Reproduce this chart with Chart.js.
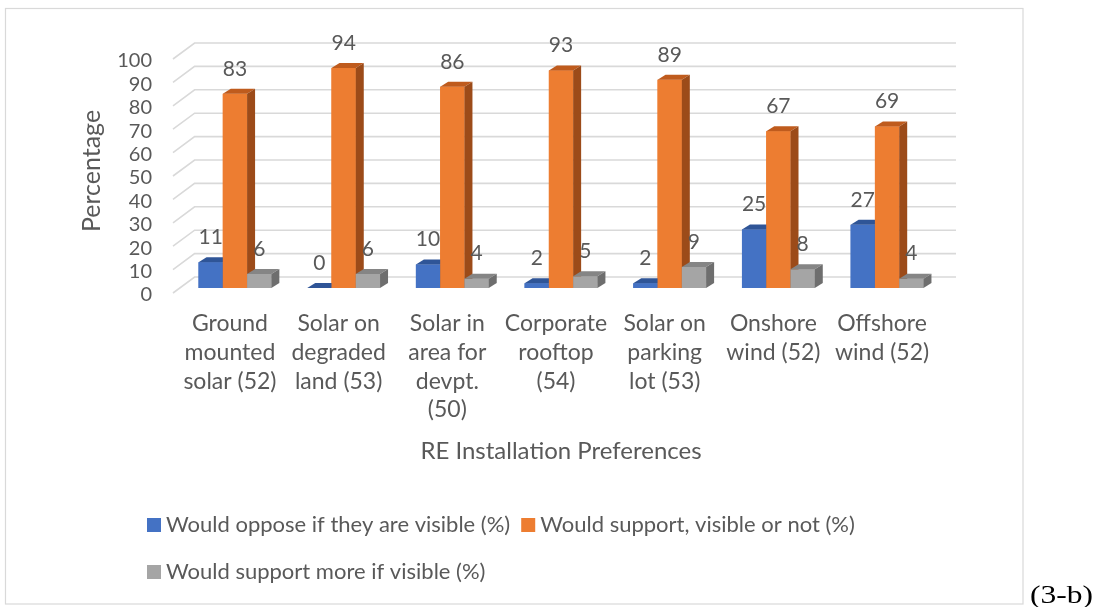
<!DOCTYPE html>
<html>
<head>
<meta charset="utf-8">
<script src="https://cdn.jsdelivr.net/npm/chart.js@4.4.0/dist/chart.umd.min.js"></script>
<style>
  html, body { margin: 0; padding: 0; background: #ffffff; }
  #wrap { position: absolute; left: 0; top: 0; width: 1096px; height: 607px; }
  canvas { display: block; }
</style>
</head>
<body>
<div id="wrap"><canvas id="chart" width="1096" height="607"></canvas></div>
<script>
// ---- data ----
const categories = [
  ["Ground", "mounted", "solar (52)"],
  ["Solar on", "degraded", "land (53)"],
  ["Solar in", "area for", "devpt.", "(50)"],
  ["Corporate", "rooftop", "(54)"],
  ["Solar on", "parking", "lot (53)"],
  ["Onshore", "wind (52)"],
  ["Offshore", "wind (52)"]
];
const seriesNames = [
  "Would oppose if they are visible (%)",
  "Would support, visible or not (%)",
  "Would support more if visible (%)"
];
const opposeIfVisible = [11, 0, 10, 2, 2, 25, 27];
const supportVisibleOrNot = [83, 94, 86, 93, 89, 67, 69];
const supportMoreIfVisible = [6, 6, 4, 5, 9, 8, 4];
const yMin = 0;
const yMax = 100;
const yStep = 10;
const xTitle = "RE Installation Preferences";
const yTitle = "Percentage";
const figureTag = "(3-b)";

// ---- styling ----
const FONT = "Lato, 'Open Sans', sans-serif";
const TEXT = "#595959";
const GRID = "#d9d9d9";
const fronts = ["#4472C4", "#ED7D31", "#A5A5A5"];
const tops = ["#2f5597", "#bf5b1d", "#858585"];
const sides = ["#2b4d8c", "#9c4b19", "#6e6e6e"];
const DEPTH_X = 8, DEPTH_Y = -5;

// back wall, floor edges and 3D faces of the bars
const depthBars = {
  id: "depthBars",
  beforeDatasetsDraw(chart) {
    const { ctx, chartArea } = chart;
    const y = chart.scales.y;
    ctx.save();
    ctx.strokeStyle = GRID;
    ctx.lineWidth = 1.6;
    const wallLeft = chartArea.left + 14;
    const wallRight = chartArea.right + 14.6;
    const floorFront = chartArea.left - 7.6;
    y.ticks.forEach(t => {
      const py = y.getPixelForValue(t.value);
      ctx.beginPath();
      ctx.moveTo(floorFront, py + 5);
      ctx.lineTo(wallLeft, py - 11);
      ctx.lineTo(wallRight, py - 11);
      ctx.stroke();
    });
    ctx.restore();
  },
  afterDatasetsDraw(chart) {
    const { ctx } = chart;
    const metas = chart.data.datasets.map((d, i) => chart.getDatasetMeta(i));
    ctx.save();
    for (let c = 0; c < categories.length; c++) {
      metas.forEach((meta, di) => {
        const el = meta.data[c];
        const { x, y, base, width } = el.getProps(["x", "y", "base", "width"], true);
        const l = x - width / 2, r = x + width / 2;
        // front
        ctx.fillStyle = fronts[di];
        ctx.fillRect(l, y, width, base - y);
        // top
        ctx.fillStyle = tops[di];
        ctx.beginPath();
        ctx.moveTo(l, y);
        ctx.lineTo(r, y);
        ctx.lineTo(r + DEPTH_X, y + DEPTH_Y);
        ctx.lineTo(l + DEPTH_X, y + DEPTH_Y);
        ctx.closePath();
        ctx.fill();
        // side
        ctx.fillStyle = sides[di];
        ctx.beginPath();
        ctx.moveTo(r, y);
        ctx.lineTo(r + DEPTH_X, y + DEPTH_Y);
        ctx.lineTo(r + DEPTH_X, base + DEPTH_Y);
        ctx.lineTo(r, base);
        ctx.closePath();
        ctx.fill();
      });
    }
    // value labels
    ctx.fillStyle = TEXT;
    ctx.font = "21px " + FONT;
    ctx.textAlign = "center";
    ctx.textBaseline = "middle";
    metas.forEach((meta, di) => {
      const values = chart.data.datasets[di].data;
      meta.data.forEach((el, i) => {
        const { x, y } = el.getProps(["x", "y"], true);
        ctx.fillText(String(values[i]), x, y - 25);
      });
    });
    ctx.restore();
  },
  afterDraw(chart) {
    const { ctx } = chart;
    ctx.save();
    // outer frame
    ctx.strokeStyle = GRID;
    ctx.lineWidth = 1.2;
    ctx.strokeRect(5.5, 8.5, 1017.5, 595.5);
    // legend, two rows
    ctx.font = "22px " + FONT;
    ctx.textBaseline = "middle";
    ctx.textAlign = "left";
    const rows = [[0, 1], [2]];
    const rowY = [525, 572];
    rows.forEach((row, ri) => {
      let x = 147;
      row.forEach(di => {
        ctx.fillStyle = fronts[di];
        ctx.fillRect(x, rowY[ri] - 7, 14, 14);
        ctx.fillStyle = TEXT;
        const label = chart.data.datasets[di].label;
        ctx.fillText(label, x + 19, rowY[ri]);
        x += 19 + ctx.measureText(label).width + 11;
      });
    });
    // figure tag outside the frame
    ctx.fillStyle = "#000000";
    ctx.font = "25px 'Liberation Serif', 'Times New Roman', serif";
    ctx.textBaseline = "alphabetic";
    const w = ctx.measureText(figureTag).width;
    ctx.translate(1030, 603);
    ctx.scale(63 / w, 1);
    ctx.fillText(figureTag, 0, 0);
    ctx.restore();
  }
};

function build() {
  new Chart(document.getElementById("chart"), {
    type: "bar",
    data: {
      labels: categories,
      datasets: [
        { label: seriesNames[0], data: opposeIfVisible, backgroundColor: fronts[0] },
        { label: seriesNames[1], data: supportVisibleOrNot, backgroundColor: fronts[1] },
        { label: seriesNames[2], data: supportMoreIfVisible, backgroundColor: fronts[2] }
      ]
    },
    options: {
      responsive: false,
      animation: false,
      devicePixelRatio: 1,
      datasets: { bar: { categoryPercentage: 0.67, barPercentage: 1.0, borderWidth: 0 } },
      layout: { padding: { left: 78.3, right: 154.6, top: 54, bottom: 141.6 } },
      plugins: { legend: { display: false }, tooltip: { enabled: false } },
      scales: {
        x: {
          grid: { display: false, drawTicks: false },
          border: { display: false },
          ticks: {
            color: TEXT,
            font: { family: FONT, size: 23, lineHeight: 1.248 },
            padding: 21.6,
            labelOffset: -5,
            maxRotation: 0,
            autoSkip: false
          },
          title: {
            display: true,
            text: xTitle,
            color: TEXT,
            font: { family: FONT, size: 24, lineHeight: 1.2 },
            padding: 0
          },
          afterFit(scale) { scale.height = 177.4; }
        },
        y: {
          min: yMin,
          max: yMax,
          grid: { display: false, drawTicks: false },
          border: { display: false },
          ticks: {
            stepSize: yStep,
            autoSkip: false,
            color: TEXT,
            font: { family: FONT, size: 20 },
            padding: 28.6,
            labelOffset: 7
          },
          title: {
            display: true,
            text: yTitle,
            color: TEXT,
            font: { family: FONT, size: 25, lineHeight: 1.1 },
            padding: 0
          },
          afterFit(scale) { scale.width = 102.3; }
        }
      }
    },
    plugins: [depthBars]
  });
}

if (document.fonts && document.fonts.load) {
  Promise.all([
    document.fonts.load("20px Lato"),
    document.fonts.load("22px 'Liberation Serif'")
  ]).then(build, build);
} else {
  build();
}
</script>
</body>
</html>
